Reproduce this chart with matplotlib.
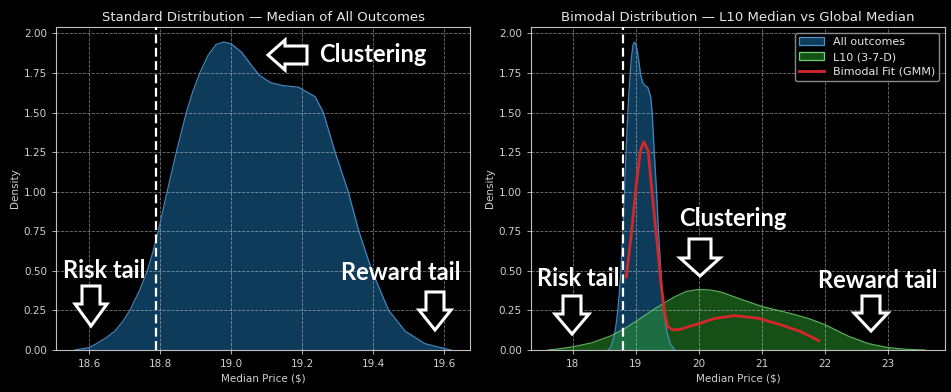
import matplotlib
matplotlib.use("Agg")
import matplotlib.pyplot as plt
from matplotlib.patches import Polygon, Patch
from matplotlib.lines import Line2D

plt.style.use("dark_background")

# ---------------- data ----------------
all_x = [18.56, 18.60, 18.621, 18.65, 18.673, 18.695, 18.715, 18.743, 18.764, 18.78,
         18.795, 18.82, 18.846, 18.874, 18.892, 18.912, 18.935, 18.958, 18.98, 19.00,
         19.03, 19.06, 19.08, 19.11, 19.145, 19.19, 19.237, 19.26, 19.293, 19.33,
         19.36, 19.397, 19.444, 19.49, 19.546, 19.60, 19.62]
all_d = [0.00, 0.015, 0.04, 0.08, 0.12, 0.18, 0.25, 0.38, 0.50, 0.62,
         0.75, 1.00, 1.25, 1.50, 1.63, 1.75, 1.86, 1.93, 1.945, 1.935,
         1.88, 1.79, 1.735, 1.69, 1.67, 1.66, 1.60, 1.50, 1.25, 1.00,
         0.75, 0.50, 0.25, 0.12, 0.04, 0.01, 0.00]

l10_x = [17.61, 17.80, 18.0, 18.3, 18.61, 18.8, 19.0, 19.3, 19.61, 19.8,
         20.0, 20.2, 20.36, 20.67, 21.0, 21.46, 21.73, 22.0, 22.2, 22.37,
         22.69, 23.0, 23.3, 23.58]
l10_d = [0.00, 0.008, 0.02, 0.045, 0.09, 0.13, 0.18, 0.26, 0.335, 0.37,
         0.383, 0.378, 0.365, 0.32, 0.275, 0.23, 0.20, 0.16, 0.12, 0.087,
         0.04, 0.015, 0.004, 0.00]

gmm_x = [18.85, 18.93, 19.01, 19.075, 19.127, 19.195, 19.27, 19.35, 19.405, 19.46,
         19.51, 19.59, 19.70, 19.86, 20.01, 20.26, 20.57, 20.94, 21.31, 21.62, 21.90]
gmm_d = [0.462, 0.735, 1.05, 1.26, 1.315, 1.26, 0.945, 0.63, 0.40, 0.23,
         0.147, 0.126, 0.13, 0.15, 0.168, 0.20, 0.217, 0.20, 0.158, 0.115, 0.059]

median_all = 18.79

left_xticks = [18.6, 18.8, 19.0, 19.2, 19.4, 19.6]
right_xticks = [18, 19, 20, 21, 22, 23]
yticks = [0.00, 0.25, 0.50, 0.75, 1.00, 1.25, 1.50, 1.75, 2.00]

# ---------------- figure ----------------
W, H = 951, 392
fig = plt.figure(figsize=(W / 100, H / 100), dpi=100)
fig.patch.set_facecolor("black")

def px_axes(l, r, t, b):
    return fig.add_axes([l / W, 1 - b / H, (r - l) / W, (b - t) / H])

axL = px_axes(56, 470, 27, 350)
axR = px_axes(531, 945, 27, 350)

blue = "#1f77b4"
green = "#2ca02c"
red = "#d62728"

def style(ax, title, xticks, xlim):
    ax.set_facecolor("black")
    ax.set_title(title, fontsize=9.5, color="#e6e6e6", pad=4)
    ax.set_xlabel("Median Price ($)", fontsize=7.5, color="#d0d0d0", labelpad=3)
    ax.set_ylabel("Density", fontsize=7.5, color="#d0d0d0", labelpad=3)
    ax.set_xticks(xticks)
    ax.set_yticks(yticks)
    ax.set_xlim(*xlim)
    ax.set_ylim(0, 2.04)
    ax.tick_params(labelsize=7.5, colors="#d0d0d0", length=3, width=0.6)
    ax.grid(True, color="white", alpha=0.45, linestyle="--", linewidth=0.6)
    for s in ax.spines.values():
        s.set_color("#bfbfbf")
        s.set_linewidth(0.8)
    ax.set_axisbelow(False)

# Left panel
axL.fill_between(all_x, all_d, color=blue, alpha=0.5, linewidth=0, zorder=2)
axL.plot(all_x, all_d, color="#4a90c8", linewidth=0.9, alpha=0.9, zorder=3)
axL.axvline(median_all, color="white", linestyle="--", linewidth=1.6, dashes=(4, 2), zorder=4)
style(axL, "Standard Distribution \u2014 Median of All Outcomes", left_xticks, (18.507, 19.673))
axL.set_xticklabels([f"{v:.1f}" for v in left_xticks])

# Right panel
axR.fill_between(all_x, all_d, color=blue, alpha=0.5, linewidth=0, zorder=2)
axR.plot(all_x, all_d, color="#4a90c8", linewidth=0.9, alpha=0.9, zorder=3)
axR.fill_between(l10_x, l10_d, color=green, alpha=0.5, linewidth=0, zorder=2)
axR.plot(l10_x, l10_d, color="#6fd06f", linewidth=0.9, alpha=0.8, zorder=3)
axR.plot(gmm_x, gmm_d, color=red, linewidth=2, zorder=5)
axR.axvline(median_all, color="white", linestyle="--", linewidth=1.6, dashes=(4, 2), zorder=4)
style(axR, "Bimodal Distribution \u2014 L10 Median vs Global Median", right_xticks, (17.34, 23.9))

handles = [Patch(facecolor=(0.12, 0.47, 0.71, 0.5), edgecolor="#4a90c8", linewidth=0.9),
           Patch(facecolor=(0.17, 0.63, 0.17, 0.5), edgecolor="#6fd06f", linewidth=0.9),
           Line2D([0], [0], color=red, linewidth=2)]
leg = axR.legend(handles, ["All outcomes", "L10 (3-7-D)", "Bimodal Fit (GMM)"],
                 loc="upper right", fontsize=8, frameon=True, facecolor="black",
                 edgecolor="#9a9a9a", framealpha=0.9, borderaxespad=0.5,
                 handlelength=2.2, labelspacing=0.45)
for t in leg.get_texts():
    t.set_color("#e6e6e6")

# ---------------- annotations (outlined block arrows + bold text) ----------------
def block_arrow(tip, direction, length, head_len, head_w, tail_w):
    tx, ty = tip
    if direction == "down":
        pts = [(tx, ty), (tx - head_w / 2, ty - head_len), (tx - tail_w / 2, ty - head_len),
               (tx - tail_w / 2, ty - length), (tx + tail_w / 2, ty - length),
               (tx + tail_w / 2, ty - head_len), (tx + head_w / 2, ty - head_len)]
    else:  # left
        pts = [(tx, ty), (tx + head_len, ty - head_w / 2), (tx + head_len, ty - tail_w / 2),
               (tx + length, ty - tail_w / 2), (tx + length, ty + tail_w / 2),
               (tx + head_len, ty + tail_w / 2), (tx + head_len, ty + head_w / 2)]
    fpts = [(x / W, 1 - y / H) for x, y in pts]
    fig.patches.append(Polygon(fpts, closed=True, transform=fig.transFigure,
                               facecolor="black", edgecolor="white", linewidth=2.2,
                               joinstyle="miter", zorder=10))

def label(x, y, s):
    fig.text(x / W, 1 - y / H, s, ha="center", va="center", fontsize=17,
             fontweight="bold", color="white", family=["Lato", "DejaVu Sans"], zorder=11)

block_arrow((268, 55), "left", 39, 17, 30, 18)
label(373, 55, "Clustering")
block_arrow((91, 326), "down", 40, 22, 32, 18)
label(104, 270, "Risk tail")
block_arrow((435, 330), "down", 38, 20, 32, 18)
label(401, 273, "Reward tail")

block_arrow((572, 334), "down", 38, 20, 34, 18)
label(578, 279, "Risk tail")
block_arrow((700, 276), "down", 37, 18, 40, 22)
label(733, 219, "Clustering")
block_arrow((871, 331), "down", 35, 18, 34, 18)
label(878, 280, "Reward tail")

fig.savefig("out.png", dpi=100, facecolor="black")
